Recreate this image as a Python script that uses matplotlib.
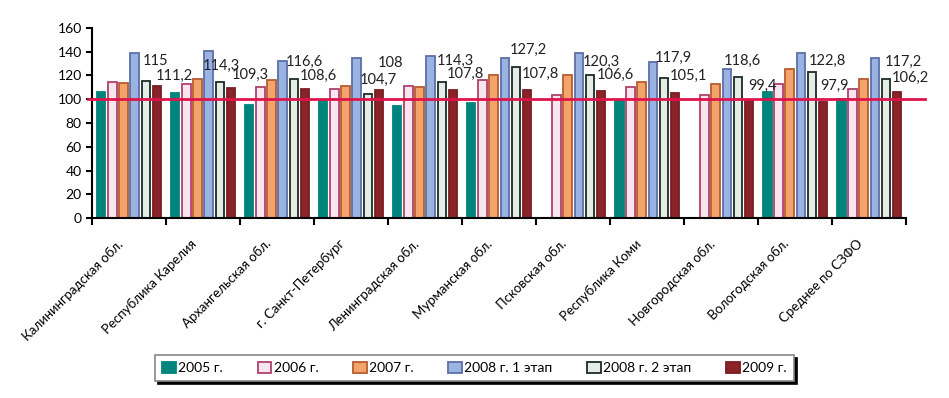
import numpy as np
import matplotlib
matplotlib.use('Agg')
import matplotlib.pyplot as plt
from matplotlib.patches import Patch

plt.rcParams['font.family'] = ['Lato', 'DejaVu Sans']

regions = ['Калининградская обл.', 'Республика Карелия', 'Архангельская обл.',
           'г. Санкт-Петербург', 'Ленинградская обл.', 'Мурманская обл.',
           'Псковская обл.', 'Республика Коми', 'Новгородская обл.',
           'Вологодская обл.', 'Среднее по СЗФО']
series_names = ['2005 г.', '2006 г.', '2007 г.', '2008 г. 1 этап', '2008 г. 2 этап', '2009 г.']

y2005 = [106.0, 104.9, 95.4, 98.2, 94.0, 96.8, np.nan, 98.2, np.nan, 106.0, 100.2]
y2006 = [114.2, 113.1, 110.3, 108.6, 111.4, 115.9, 103.2, 110.3, 103.2, 112.8, 108.9]
y2007 = [114.0, 117.0, 115.9, 111.4, 110.3, 120.7, 120.7, 114.5, 113.1, 125.5, 117.0]
y2008a = [139.0, 140.9, 131.9, 134.4, 136.0, 134.4, 139.0, 131.0, 125.5, 139.0, 134.8]
y2008b = [115.0, 114.3, 116.6, 104.7, 114.3, 127.2, 120.3, 117.9, 118.6, 122.8, 117.2]
y2009 = [111.2, 109.3, 108.6, 108.0, 107.8, 107.8, 106.6, 105.1, 99.4, 97.9, 106.2]

faces = ['#00857C', '#F7E6EE', '#F2A46A', '#9BB3E0', '#E4ECE6', '#8A2428']
edges = ['#00857C', '#B0406E', '#B85C30', '#5C70A8', '#1E2A26', '#7A1E22']

# сдвиги подписей (пиксели), как они разнесены на исходной диаграмме
nudge_b = [(1, 16), (-13, 12), (-4, 14), (-4, 10), (-1, 17), (-2, 13),
           (-3, 9), (-5, 16), (-10, 12), (1, 7), (3, 13)]
nudge_9 = [(3, 6), (5, 9), (-1, 9), (3, 23), (-2, 12), (-1, 12),
           (0, 12), (-1, 13), (3, 10), (1, 12), (-1, 10)]


def fmt(v):
    return ('%g' % v).replace('.', ',')


fig = plt.figure(figsize=(9.49, 3.98), dpi=100)
ax = fig.add_axes([0.097, 0.452, 0.858, 0.478])

x = np.arange(len(regions))
step = 0.151
width = 0.115
data = [y2005, y2006, y2007, y2008a, y2008b, y2009]
bars = []
for i, vals in enumerate(data):
    b = ax.bar(x + (i - 2.5) * step, vals, width, color=faces[i], edgecolor=edges[i],
               linewidth=1.3, zorder=2)
    bars.append(b)

# подписи значений для 2008 г. 2 этап и 2009 г.
for rect, v, (dx, dy) in zip(bars[4], y2008b, nudge_b):
    ax.annotate(fmt(v), (rect.get_x(), v), xytext=(dx, dy), textcoords='offset pixels',
                ha='left', va='baseline', fontsize=10.5, color='#222222')
for rect, v, (dx, dy) in zip(bars[5], y2009, nudge_9):
    ax.annotate(fmt(v), (rect.get_x(), v), xytext=(dx, dy), textcoords='offset pixels',
                ha='left', va='baseline', fontsize=10.5, color='#222222')

# линия 100
ax.plot([-0.005, 1.023], [100, 100], color='#E0144C', linewidth=2,
        transform=ax.get_yaxis_transform(), clip_on=False, zorder=3)

ax.set_xlim(-0.5, len(regions) - 0.5)
ax.set_ylim(0, 160)
ax.set_yticks(range(0, 161, 20))
ax.set_xticks(x - 0.17)
ax.set_xticklabels(regions, rotation=45, ha='right', va='top', rotation_mode='anchor', fontsize=9.5)
ax.set_xticks(np.arange(-0.5, len(regions), 1), minor=True)
ax.tick_params(axis='x', which='major', length=0, pad=14)
ax.tick_params(axis='x', which='minor', length=5, width=1.5)
ax.tick_params(axis='y', length=4, width=1.5, labelsize=10)
for s in ['top', 'right']:
    ax.spines[s].set_visible(False)
ax.spines['left'].set_linewidth(1.5)
ax.spines['bottom'].set_linewidth(1.5)

handles = [Patch(facecolor=faces[i], edgecolor=edges[i], linewidth=1.3) for i in range(6)]
leg = fig.legend(handles, series_names, ncol=6, loc='center', bbox_to_anchor=(0.5, 0.0754),
                 fontsize=10, frameon=True, fancybox=False, shadow={'color': 'black', 'alpha': 1},
                 handlelength=1.0, handleheight=0.9, handletextpad=0.15, columnspacing=2.5,
                 borderpad=0.5)
leg.get_frame().set_edgecolor('#888888')
leg.get_frame().set_linewidth(1.2)

fig.savefig('out.png', dpi=100)
